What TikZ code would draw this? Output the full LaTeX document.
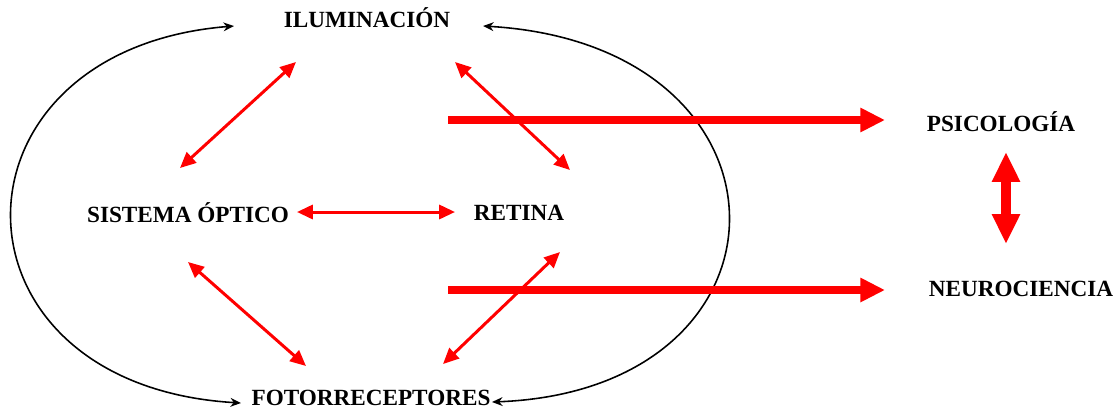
\documentclass[tikz,border=0pt]{standalone}
\usepackage{fontspec}
\setmainfont{Liberation Serif}
\usetikzlibrary{arrows.meta}

\begin{document}
\begin{tikzpicture}[x=0.02cm,y=-0.02cm,
    lbl/.style={font=\fontsize{13.2}{15}\selectfont\bfseries, inner sep=0pt},
    loop/.style={black, line width=0.9pt, {Stealth[length=6pt,width=5pt]}-{Stealth[length=6pt,width=5pt]}},
    link/.style={red, line width=1.7pt, {Triangle[length=9pt,width=8pt]}-{Triangle[length=9pt,width=8pt]}},
    flow/.style={red, line width=4pt, -{Triangle[length=14pt,width=13pt]}},
    both/.style={red, line width=5.8pt, {Triangle[length=17pt,width=15pt]}-{Triangle[length=17pt,width=15pt]}}]
  \useasboundingbox (0,0) rectangle (1118,410);

  \node[lbl] (ilum) at (367,18) {ILUMINACIÓN};
  \node[lbl] (sisop) at (188,213) {SISTEMA ÓPTICO};
  \node[lbl] (retina) at (519,213) {RETINA};
  \node[lbl] (foto) at (371,398) {FOTORRECEPTORES};
  \node[lbl] (psico) at (1001,122) {PSICOLOGÍA};
  \node[lbl] (neuro) at (1021,289) {NEUROCIENCIA};

  % ends of the arrows
  \coordinate (il-l) at (234,26);
  \coordinate (il-r) at (483,26);
  \coordinate (fo-l) at (241,403);
  \coordinate (fo-r) at (492,402);
  \coordinate (il-sw) at (296,62);
  \coordinate (il-se) at (455,62);
  \coordinate (so-ne) at (180,168);
  \coordinate (so-se) at (188,262);
  \coordinate (so-e) at (297,212);
  \coordinate (re-w) at (455,212);
  \coordinate (re-nw) at (570,170);
  \coordinate (re-sw) at (560,252);
  \coordinate (fo-nw) at (306,366);
  \coordinate (fo-ne) at (443,364);
  \coordinate (ps-a) at (448,120);
  \coordinate (ps-b) at (885,120);
  \coordinate (ne-a) at (448,290);
  \coordinate (ne-b) at (885,290);
  \coordinate (ps-s) at (1006,152);
  \coordinate (ne-n) at (1006,244);

  \draw[loop] (il-l) .. controls (-63,50) and (-63,385) .. (fo-l);
  \draw[loop] (il-r) .. controls (808,45) and (808,390) .. (fo-r);

  \draw[link] (so-ne) -- (il-sw);
  \draw[link] (il-se) -- (re-nw);
  \draw[link] (so-se) -- (fo-nw);
  \draw[link] (re-sw) -- (fo-ne);
  \draw[link] (so-e) -- (re-w);

  \draw[flow] (ps-a) -- (ps-b);
  \draw[flow] (ne-a) -- (ne-b);
  \draw[both] (ps-s) -- (ne-n);
\end{tikzpicture}
\end{document}
